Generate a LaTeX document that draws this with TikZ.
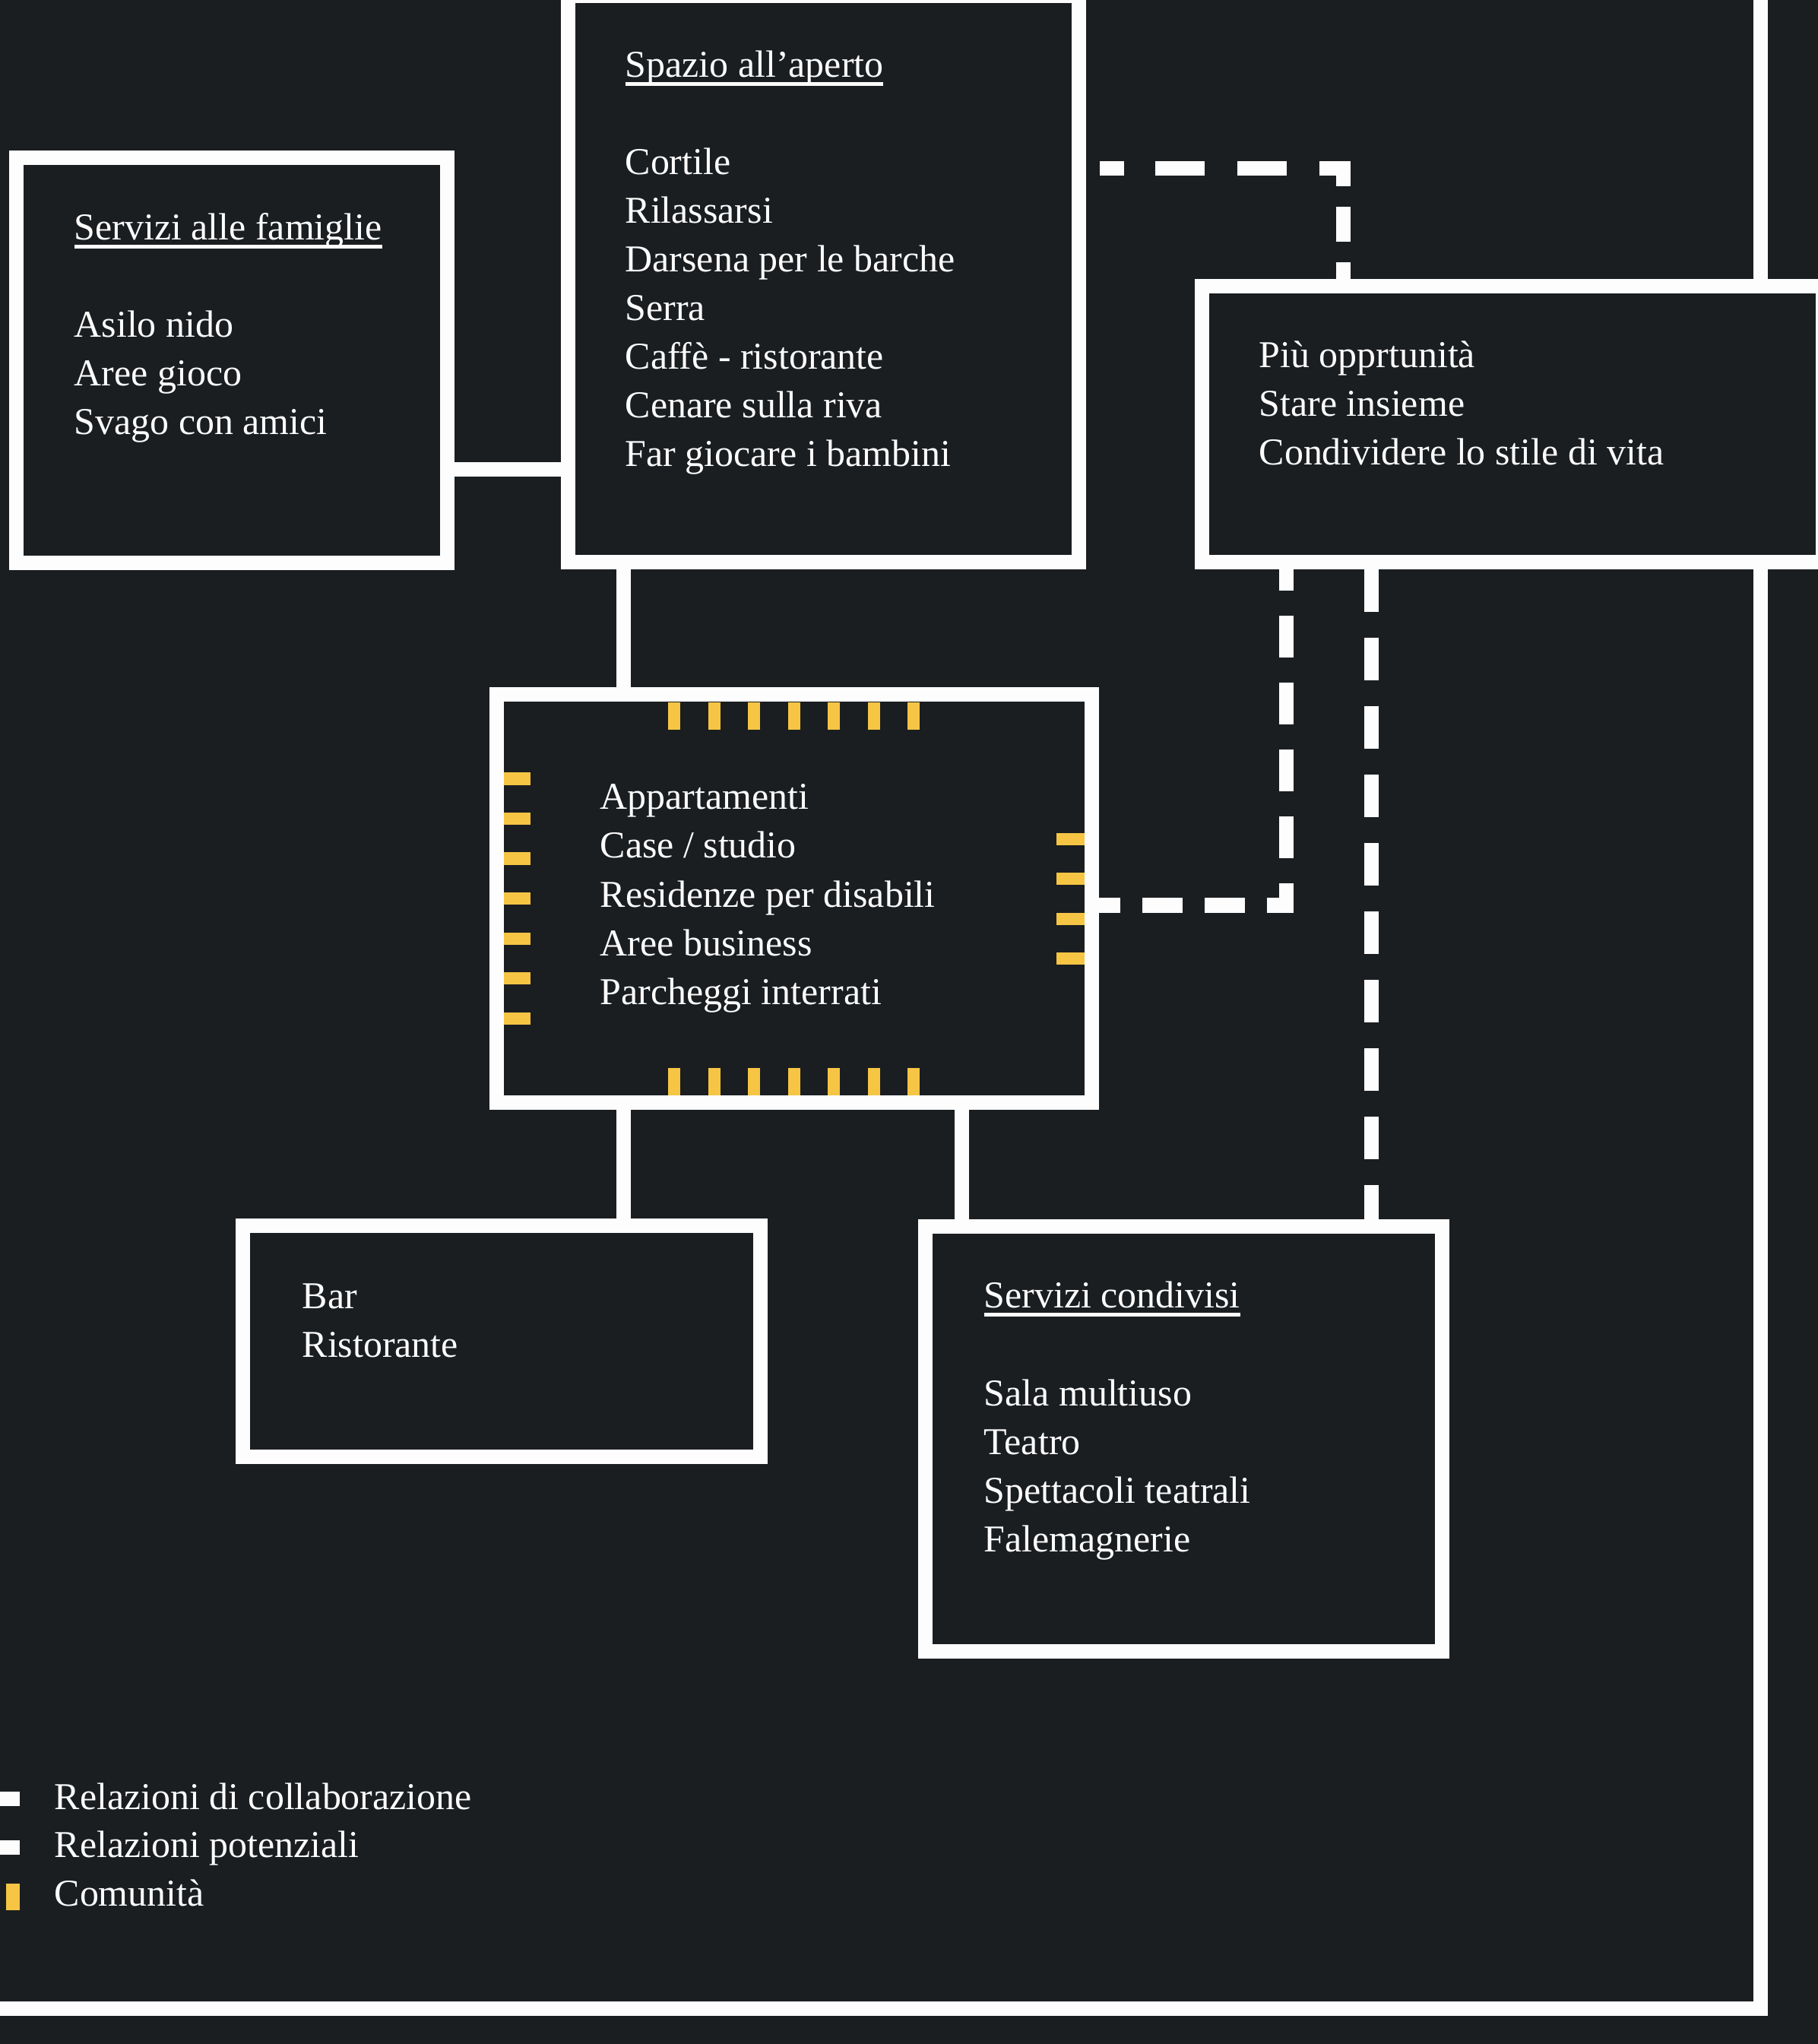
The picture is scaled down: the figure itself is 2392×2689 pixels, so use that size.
\documentclass[tikz,border=0pt]{standalone}
\usepackage{fontspec}
\setmainfont{Liberation Serif}
\usepackage{tikz}
\usetikzlibrary{calc}
\definecolor{bgdark}{HTML}{1B1E21}
\definecolor{lnwhite}{HTML}{FDFDFD}
\definecolor{commyel}{HTML}{F6C544}
\newsavebox\ulbox
\newcommand\titleul[1]{\sbox\ulbox{#1}\rlap{\rule[-0.22em]{\wd\ulbox}{0.09em}}\usebox\ulbox}
\tikzset{
  panel/.style    = {draw=lnwhite, fill=bgdark, line width=0.19cm, inner sep=0pt},
  collab/.style   = {draw=lnwhite, line width=0.19cm},
  potent/.style   = {draw=lnwhite, line width=0.19cm},
  commtick/.style = {draw=commyel, line width=0.16cm},
  boxtxt/.style   = {text=lnwhite, anchor=base west, align=left, inner sep=0pt,
                     font=\fontsize{14.2}{18.2}\selectfont},
}

\begin{document}
\begin{tikzpicture}[x=0.01cm, y=-0.01cm]
  \useasboundingbox (0,0) rectangle (2392,2689);
  \clip (0,0) rectangle (2392,2689);
  \fill[bgdark] (0,0) rectangle (2392,2689);
  % outer frame
  \draw[collab, line join=miter] (2316,-30) -- (2316,2642) -- (-30,2642);
  % boxes
  \node[panel, minimum width=5.66cm, minimum height=5.32cm] (fam) at (305,474) {};
  \node[panel, minimum width=6.71cm, minimum height=7.44cm] (spazio) at (1083.5,367) {};
  \node[panel, minimum width=8.165cm, minimum height=3.62cm] (piu) at (1989.75,558) {};
  \node[panel, minimum width=7.82cm, minimum height=5.36cm] (mid) at (1045,1182) {};
  \node[panel, minimum width=6.80cm, minimum height=3.03cm] (bar) at (660,1764.5) {};
  \node[panel, minimum width=6.79cm, minimum height=5.58cm] (serv) at (1557.5,1893) {};
  % connectors
  \coordinate (fs) at (0,618);
  \coordinate (sm) at (820,0);
  \coordinate (ms) at (1265,0);
  \coordinate (pl) at (1804,0);
  \coordinate (c1) at (1767,222);
  \coordinate (c2) at (1692,1191);
  \draw[collab] (fam.east |- fs) -- (spazio.west |- fs);
  \draw[collab] (spazio.south -| sm) -- (mid.north -| sm);
  \draw[collab] (mid.south -| sm) -- (bar.north -| sm);
  \draw[collab] (mid.south -| ms) -- (serv.north -| ms);
  \draw[potent, dash pattern=on 0.32cm off 0.41cm on 0.65cm off 0.43cm on 0.65cm off 0.43cm
        on 0.41cm off 0.18cm, dash phase=3.30cm]
    (spazio.east |- c1) -- ([xshift=0.095cm]c1);
  \draw[potent, dash pattern=on 0.46cm off 0.27cm, dash phase=0.135cm]
    ([yshift=0.095cm]c1) -- (piu.north -| c1);
  \draw[potent, dash pattern=on 0.53cm off 0.29cm, dash phase=0.25cm]
    (mid.east |- c2) -- ([xshift=0.095cm]c2);
  \draw[potent, dash pattern=on 0.55cm off 0.33cm, dash phase=0.27cm]
    (piu.south -| c2) -- ([yshift=-0.095cm]c2);
  \draw[potent, dash pattern=on 0.56cm off 0.34cm]
    (piu.south -| pl) -- (serv.north -| pl);
  % community ticks
  \foreach \k in {0,...,6}{
    \draw[commtick] (887+52.5*\k,924) -- (887+52.5*\k,960);
    \draw[commtick] (887+52.5*\k,1405) -- (887+52.5*\k,1441);
    \draw[commtick] (663,1024.5+52.5*\k) -- (698,1024.5+52.5*\k);}
  \foreach \k in {0,...,3}{
    \draw[commtick] (1390,1104+52.3*\k) -- (1427,1104+52.3*\k);}
  % texts (anchored on the last line)
  \node[boxtxt] (famtxt) at (97,572)
    {\titleul{Servizi alle famiglie}\\[0.64cm] Asilo nido\\ Aree gioco\\ Svago con amici};
  \node[boxtxt] (spaziotxt) at (822,614)
    {\titleul{Spazio all'aperto}\\[0.64cm] Cortile\\ Rilassarsi\\ Darsena per le barche\\ Serra\\
     Caffè - ristorante\\ Cenare sulla riva\\ Far giocare i bambini};
  \node[boxtxt] (piutxt) at (1656,612)
    {Più opprtunità\\ Stare insieme\\ Condividere lo stile di vita};
  \node[boxtxt] (midtxt) at (789,1321)
    {Appartamenti\\ Case / studio\\ Residenze per disabili\\ Aree business\\ Parcheggi interrati};
  \node[boxtxt] (bartxt) at (397,1785) {Bar\\ Ristorante};
  \node[boxtxt] (servtxt) at (1294,2041)
    {\titleul{Servizi condivisi}\\[0.64cm] Sala multiuso\\ Teatro\\ Spettacoli teatrali\\ Falemagnerie};
  % legend
  \draw[collab] (-20,2366) -- (26,2366);
  \draw[collab] (-20,2430) -- (26,2430);
  \draw[commtick, line width=0.18cm] (17,2478) -- (17,2513);
  \node[boxtxt] (legcollab) at (71,2380) {Relazioni di collaborazione};
  \node[boxtxt] (legpotent) at (71,2443) {Relazioni potenziali};
  \node[boxtxt] (legcomm) at (71,2507) {Comunità};
\end{tikzpicture}
\end{document}
